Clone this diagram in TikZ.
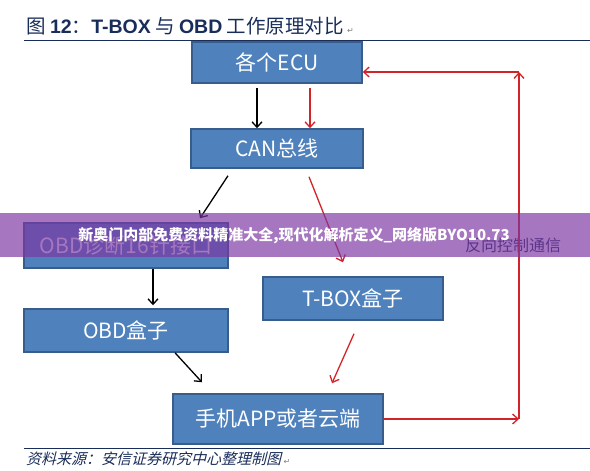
\documentclass[tikz,border=0pt]{standalone}
\usepackage{fontspec}
\usepackage{xcolor}
\usepackage{tikz}
\usetikzlibrary{positioning,arrows.meta}
\setmainfont{Noto Sans CJK SC}
\newfontfamily\latfont{Liberation Sans}
\newfontfamily\srcfont[FakeSlant=0.25]{Noto Sans CJK SC}
\newfontfamily\symfont{DejaVu Sans}
\definecolor{myblue}{RGB}{79,129,189}
\definecolor{myborder}{RGB}{56,93,138}
\definecolor{myred}{RGB}{210,35,40}
\definecolor{mynavy}{RGB}{25,45,90}
\definecolor{mypurple}{RGB}{124,55,162}

\begin{document}
\begin{tikzpicture}[x=1pt, y=-1pt, node distance=86pt,
    box/.style={draw=myborder, line width=1.5pt, fill=myblue, text=white,
      minimum height=41pt, inner sep=0pt, font=\fontsize{21}{25}\selectfont},
    blk/.style={draw=black, line width=1.3pt, -{Straight Barb[length=5.5pt,width=10pt]}},
    rd/.style={draw=myred, line width=1.3pt, -{Straight Barb[length=5.5pt,width=10pt]}}]
  \useasboundingbox (0,0) rectangle (590,471);
  % title
  \node[anchor=base west, text=mynavy, inner sep=0pt, font=\fontsize{19.5}{22}\selectfont] (H) at (26,33)
    {图 {\latfont\bfseries 12}：{\latfont\bfseries T-BOX} 与 {\latfont\bfseries OBD} 工作原理对比\,{\symfont\fontsize{8}{8}\selectfont\color{gray}↵}};
  \draw[mynavy, line width=1pt] (24,40) -- (590,40);

  \node[box, minimum width=170pt] (E) at (277,62.5) {各个ECU};
  \node[box, minimum width=172pt, minimum height=39pt] (C) [below of=E] {CAN总线};
  \node[box, minimum width=204pt, minimum height=45pt] (P) at (126,245.5) {OBD诊断16针接口};
  \node[box, minimum width=204pt, minimum height=43pt] (O) [below of=P, node distance=85pt] {OBD盒子};
  \node[box, minimum width=180pt, minimum height=43pt] (T) at (353,298.5) {T-BOX盒子};
  \node[box, minimum width=210pt, minimum height=50pt] (A) at (278,419) {手机APP或者云端};

  \coordinate (br) at (519,419);
  \coordinate (tr) at (519,72);
  \node[text=mynavy, font=\fontsize{16}{18}\selectfont] (L) at (513,245) {反向控制通信};

  \path
    ([xshift=-20pt,yshift=-4pt]E.south) edge[blk] ([xshift=-20pt]C.north)
    ([xshift=33pt,yshift=-4pt]E.south) edge[rd] ([xshift=33pt]C.north)
    ([xshift=-49pt,yshift=-7pt]C.south) edge[blk] ([xshift=74pt,yshift=4pt]P.north)
    ([xshift=32pt,yshift=-8pt]C.south) edge[rd] ([xshift=-10pt,yshift=14pt]T.north)
    ([xshift=27pt]P.south) edge[blk] ([xshift=27pt,yshift=3pt]O.north)
    ([xshift=49pt]O.south) edge[blk] ([xshift=-76pt,yshift=11pt]A.north)
    ([xshift=1pt,yshift=-13pt]T.south) edge[rd] ([xshift=54pt,yshift=10pt]A.north)
    (A.east) edge[rd] (br)
    (br) edge[rd] (tr)
    (tr) edge[rd] (tr -| E.east);

  % banner
  \fill[mypurple, opacity=0.68] (0,213) rectangle (590,257);
  \node[text=white, font=\bfseries\fontsize{15}{18}\selectfont] (W) at (294,236)
    {新奥门内部免费资料精准大全,现代化解析定义\_网络版BYO10.73};

  % source
  \draw[mynavy, line width=1pt] (24,448) -- (590,448);
  \node[anchor=west, text=mynavy, inner sep=0pt, font=\srcfont\fontsize{15}{18}\selectfont] (S) at (26,459)
    {资料来源：安信证券研究中心整理制图\,{\symfont\fontsize{8}{8}\selectfont\color{gray}↵}};
\end{tikzpicture}
\end{document}
